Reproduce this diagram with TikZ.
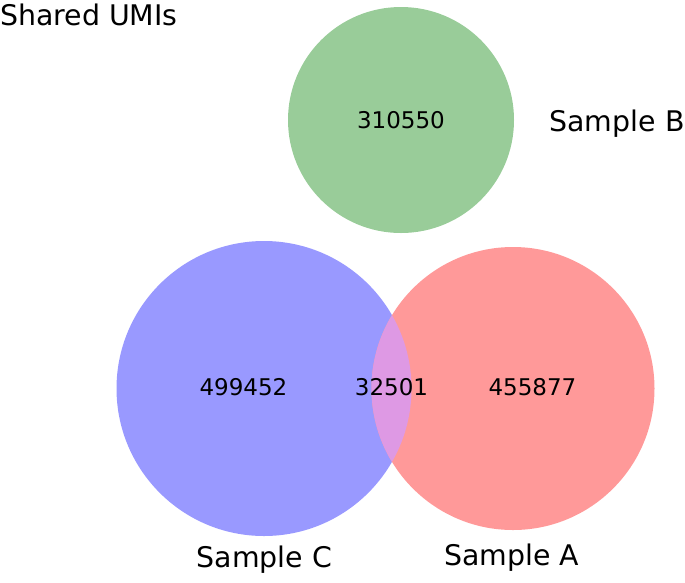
\documentclass[tikz,border=0pt]{standalone}
\usepackage{fontspec}
\setmainfont{DejaVu Sans}
\definecolor{vblue}{RGB}{153,153,255}
\definecolor{vred}{RGB}{255,153,153}
\definecolor{vgreen}{RGB}{153,204,153}
\definecolor{vlens}{RGB}{222,153,228}
\tikzset{
  setlabel/.style={anchor=base, inner sep=0pt, font=\fontsize{28.4}{30}\selectfont},
  numlabel/.style={anchor=base, inner sep=0pt, font=\fontsize{23}{25}\selectfont},
}
\begin{document}
\begin{tikzpicture}[x=1pt,y=-1pt]
\useasboundingbox (0,0) rectangle (685,582);
% circles
\fill[vgreen] (401,120) circle (113);
\fill[vblue] (264,388.5) circle (147.5);
\fill[vred] (513,388.5) circle (141.5);
\begin{scope}
  \clip (264,388.5) circle (147.5);
  \fill[vlens] (513,388.5) circle (141.5);
\end{scope}
% labels
\node[setlabel, anchor=base west] (title) at (0,25) {Shared UMIs};
\node[setlabel] (lb) at (617,131) {Sample B};
\node[setlabel] (lc) at (264.5,567) {Sample C};
\node[setlabel] (la) at (511.5,565) {Sample A};
% counts
\node[numlabel] (nb) at (401,128) {310550};
\node[numlabel] (nc) at (243.5,395) {499452};
\node[numlabel] (nac) at (391.5,395) {32501};
\node[numlabel] (na) at (532.5,395) {455877};
\end{tikzpicture}
\end{document}
